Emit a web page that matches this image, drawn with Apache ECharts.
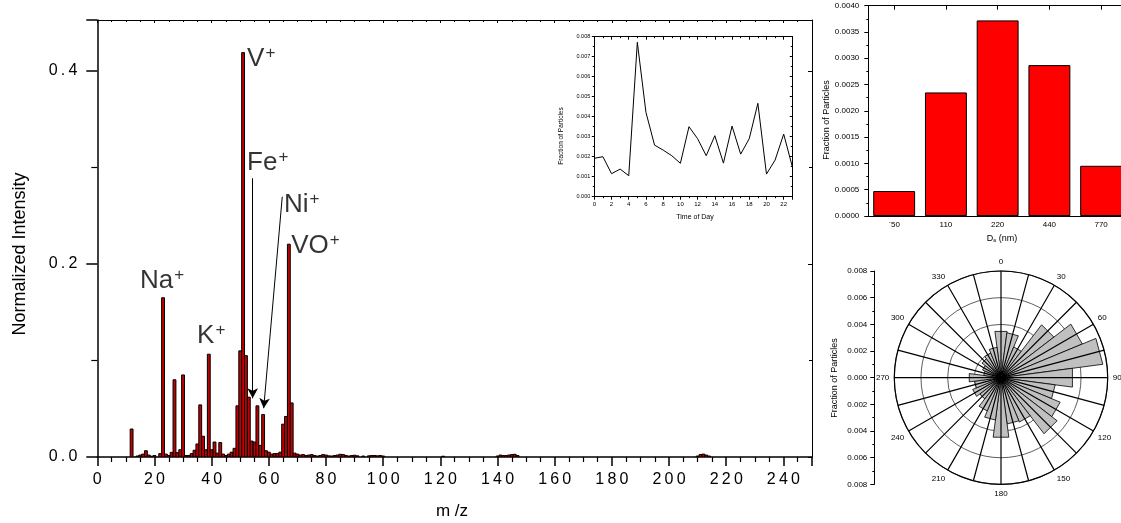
<!DOCTYPE html>
<html><head><meta charset="utf-8">
<script src="https://cdn.jsdelivr.net/npm/echarts@6/dist/echarts.min.js"></script>
<style>html,body{margin:0;padding:0;background:#fff}#c{width:1121px;height:523px}</style>
</head><body><div id="c"></div>
<script>
const FONT = 'Liberation Sans, Arial, Helvetica, sans-serif';

// ---------- main mass spectrum ----------
const mzValues = [12,14,15,16,17,18,19,20,22,23,24,25,26,27,28,29,30,31,32,33,34,35,36,37,38,39,40,41,42,43,44,45,46,47,48,49,50,51,52,53,54,55,56,57,58,59,60,61,62,63,64,65,66,67,68,69,70,71,72,73,74,75,76,77,78,79,80,81,82,83,84,85,86,87,88,89,90,91,93,95,96,97,98,99,100,121,140,141,142,143,144,145,146,147,210,211,212,213,214];
const intensities = [0.029,0.001,0.002,0.003,0.0065,0.002,0.0008,0.0015,0.0035,0.165,0.003,0.0015,0.0048,0.080,0.0045,0.0075,0.085,0.0015,0.0015,0.0035,0.007,0.0135,0.054,0.0215,0.0075,0.1065,0.0075,0.0155,0.004,0.015,0.003,0.0015,0.003,0.005,0.009,0.053,0.110,0.419,0.105,0.062,0.0165,0.0155,0.053,0.012,0.044,0.0065,0.005,0.003,0.0035,0.0035,0.005,0.034,0.042,0.2205,0.056,0.004,0.003,0.002,0.0025,0.0015,0.002,0.0025,0.0015,0.001,0.0015,0.0025,0.002,0.0012,0.001,0.0015,0.002,0.0028,0.0025,0.0015,0.001,0.0015,0.0018,0.0012,0.001,0.0012,0.0015,0.0015,0.0012,0.0015,0.001,0.0008,0.001,0.002,0.0015,0.0015,0.002,0.0025,0.0028,0.0015,0.001,0.0025,0.003,0.002,0.001];

// ion labels (anchor = left edge / vertical middle, data units)
const ionNames = ['Na','K','V','Fe','Ni','VO'];
const ionLabelX = [14.9, 34.9, 52.4, 52.4, 65.3, 67.8];
const ionLabelY = [0.1824, 0.1254, 0.4124, 0.3047, 0.2611, 0.2187];
// arrows (from -> to, data units)
const arrowFrom = [[54.35, 0.2888], [64.7, 0.2697]];
const arrowTo   = [[54.35, 0.0608], [58.2, 0.0505]];

// ---------- inset: diurnal ----------
const hours = [0,1,2,3,4,5,6,7,8,9,10,11,12,13,14,15,16,17,18,19,20,21,22,23];
const hourFractions = [0.00192,0.0020,0.00115,0.00138,0.00105,0.00772,0.00422,0.00258,0.00233,0.00205,0.00167,0.0035,0.0029,0.00205,0.00305,0.00168,0.00353,0.00213,0.0029,0.00467,0.00113,0.00183,0.00313,0.0015];

// ---------- size histogram ----------
const sizeCategories = ['`50','110','220','440','770'];
const sizeFractions = [0.000475,0.00235,0.00372,0.00287,0.000955];

// ---------- wind rose ----------
const windAngles = [0,15,30,45,60,75,90,105,120,135,150,165,180,195,210,225,240,255,270,285,300,315,330,345];
const windFractions = [0.0035,0.0034,0.0025,0.0050,0.0066,0.0077,0.0054,0.0041,0.0048,0.0053,0.0036,0.0035,0.0045,0.0032,0.0027,0.0020,0.0023,0.0020,0.0024,0.0013,0.0015,0.0018,0.0020,0.0023];

const spaced = s => String(s).split('').join('\u2009');
const blk = '#000';

const mainData = mzValues.map((m, i) => [m, intensities[i]]);
const ionData = ionNames.map((n, i) => ({name: n, value: [ionLabelX[i], ionLabelY[i]]}));

function frameAxis(extra) {
  return Object.assign({
    axisLine: {show: true, onZero: false, lineStyle: {color: blk, width: 1}},
    axisLabel: {show: false},
    splitLine: {show: false},
    axisTick: {show: true, inside: true, length: 3, lineStyle: {color: blk}},
  }, extra);
}

const option = {
  animation: false,
  backgroundColor: '#fff',
  textStyle: {fontFamily: FONT, color: blk},
  grid: [
    {left: 97.3, right: 309, top: 20, bottom: 66, outerBoundsMode: 'none', containLabel: false},
    {left: 594.3, right: 328.7, top: 36.7, bottom: 326.3, outerBoundsMode: 'none', containLabel: false},
    {left: 868.3, right: -6, top: 5.7, bottom: 307, outerBoundsMode: 'none', containLabel: false},
    {left: 874.3, right: 245.7, top: 271, bottom: 38.6, outerBoundsMode: 'none', containLabel: false}
  ],
  xAxis: [
    {gridIndex: 0, type: 'value', min: 0, max: 250, interval: 20, position: 'bottom',
      axisLine: {onZero: false, lineStyle: {color: blk, width: 1.5}},
      axisTick: {inside: false, length: 9, lineStyle: {color: blk, width: 1.5}},
      minorTick: {show: true, splitNumber: 4, length: 5, lineStyle: {color: blk, width: 1.2}},
      axisLabel: {color: blk, fontSize: 16, fontFamily: FONT, margin: 15, showMaxLabel: false, formatter: v => spaced(v)},
      splitLine: {show: false}},
    frameAxis({gridIndex: 0, type: 'value', min: 0, max: 250, interval: 20, position: 'top',
      minorTick: {show: true, splitNumber: 4, length: 2, lineStyle: {color: blk}}}),
    {gridIndex: 1, type: 'value', min: 0, max: 23, interval: 2, position: 'bottom',
      axisLine: {onZero: false, lineStyle: {color: blk, width: 1}},
      axisTick: {inside: false, length: 3, lineStyle: {color: blk}},
      minorTick: {show: true, splitNumber: 2, length: 1.5, lineStyle: {color: blk}},
      axisLabel: {color: blk, fontSize: 6, fontFamily: FONT, margin: 5, showMaxLabel: false},
      splitLine: {show: false}},
    frameAxis({gridIndex: 1, type: 'value', min: 0, max: 23, interval: 2, position: 'top',
      minorTick: {show: true, splitNumber: 2, length: 1.5, lineStyle: {color: blk}}}),
    {gridIndex: 2, type: 'category', data: sizeCategories, position: 'bottom',
      axisLine: {lineStyle: {color: blk, width: 1}},
      axisTick: {show: false},
      axisLabel: {color: blk, fontSize: 8, fontFamily: FONT, margin: 5}},
    frameAxis({gridIndex: 2, type: 'category', data: sizeCategories, position: 'top',
      axisTick: {show: true, inside: true, alignWithLabel: true, length: 4, lineStyle: {color: blk}}}),
    {gridIndex: 3, type: 'value', show: false, min: 0, max: 1}
  ],
  yAxis: [
    {gridIndex: 0, type: 'value', min: 0, max: 0.4528, interval: 0.2, position: 'left',
      axisLine: {show: true, onZero: false, lineStyle: {color: blk, width: 1.5}},
      axisTick: {show: true, inside: false, length: 11, lineStyle: {color: blk, width: 1.5}},
      minorTick: {show: true, splitNumber: 2, length: 6, lineStyle: {color: blk, width: 1.2}},
      axisLabel: {color: blk, fontSize: 16, fontFamily: FONT, margin: 20, showMaxLabel: false, formatter: v => spaced(v.toFixed(1))},
      splitLine: {show: false}},
    frameAxis({gridIndex: 0, type: 'value', min: 0, max: 0.4528, interval: 0.2, position: 'right',
      axisTick: {show: true, inside: true, length: 4, lineStyle: {color: blk}},
      minorTick: {show: true, splitNumber: 2, length: 3, lineStyle: {color: blk}}}),
    {gridIndex: 1, type: 'value', min: 0, max: 0.008, interval: 0.001, position: 'left',
      axisLine: {show: true, onZero: false, lineStyle: {color: blk, width: 1}},
      axisTick: {show: true, inside: false, length: 2.5, lineStyle: {color: blk}},
      minorTick: {show: true, splitNumber: 2, length: 1.5, lineStyle: {color: blk}},
      axisLabel: {color: blk, fontSize: 5.5, fontFamily: FONT, margin: 4, formatter: v => v.toFixed(3)},
      splitLine: {show: false}},
    frameAxis({gridIndex: 1, type: 'value', min: 0, max: 0.008, interval: 0.001, position: 'right',
      axisTick: {show: true, inside: true, length: 2.5, lineStyle: {color: blk}},
      minorTick: {show: true, splitNumber: 2, length: 1.5, lineStyle: {color: blk}}}),
    {gridIndex: 2, type: 'value', min: 0, max: 0.004, interval: 0.0005, position: 'left',
      axisLine: {show: true, onZero: false, lineStyle: {color: blk, width: 1}},
      axisTick: {show: true, inside: false, length: 4, lineStyle: {color: blk}},
      minorTick: {show: true, splitNumber: 2, length: 2, lineStyle: {color: blk}},
      axisLabel: {color: blk, fontSize: 8, fontFamily: FONT, margin: 9, formatter: v => v.toFixed(4)},
      splitLine: {show: false}},
    {gridIndex: 3, type: 'value', min: -0.008, max: 0.008, interval: 0.002, position: 'left',
      axisLine: {show: true, onZero: false, lineStyle: {color: blk, width: 1}},
      axisTick: {show: true, inside: false, length: 4, lineStyle: {color: blk}},
      minorTick: {show: true, splitNumber: 2, length: 2, lineStyle: {color: blk}},
      axisLabel: {color: blk, fontSize: 8, fontFamily: FONT, margin: 7, formatter: v => Math.abs(v).toFixed(3)},
      splitLine: {show: false}}
  ],
  polar: {center: [1001, 377.7], radius: 106.7},
  angleAxis: {type: 'value', min: 0, max: 360, interval: 15, startAngle: 90, clockwise: true, z: 5,
    axisLine: {show: true, lineStyle: {color: blk, width: 1.2}},
    axisTick: {show: false},
    splitLine: {show: true, lineStyle: {color: blk, width: 1.2}},
    axisLabel: {color: blk, fontSize: 8, fontFamily: FONT, margin: 5,
      formatter: v => (v % 30 === 0 && v !== 360) ? String(v) : ''}},
  radiusAxis: {type: 'value', min: 0, max: 0.008, interval: 0.002, z: 0,
    axisLine: {show: false}, axisTick: {show: false}, axisLabel: {show: false},
    splitLine: {show: true, lineStyle: {color: '#333', width: 0.8}}},
  graphic: [
    {type: 'text', x: 20, y: 254, rotation: Math.PI / 2, style: {text: 'Normalized Intensity', font: '18px ' + FONT, fill: blk, align: 'center', verticalAlign: 'middle'}},
    {type: 'text', x: 452, y: 511, style: {text: 'm /z', font: '17px ' + FONT, fill: blk, align: 'center', verticalAlign: 'middle'}},
    {type: 'text', x: 695, y: 216.7, style: {text: 'Time of Day', font: '7px ' + FONT, fill: blk, align: 'center', verticalAlign: 'middle'}},
    {type: 'text', x: 561, y: 136, rotation: Math.PI / 2, style: {text: 'Fraction of Particles', font: '6.5px ' + FONT, fill: blk, align: 'center', verticalAlign: 'middle'}},
    {type: 'text', x: 826.7, y: 120, rotation: Math.PI / 2, style: {text: 'Fraction of Particles', font: '9px ' + FONT, fill: blk, align: 'center', verticalAlign: 'middle'}},
    {type: 'text', x: 1002, y: 239, style: {text: '{a|D}{s|a}{a| (nm)}', align: 'center', verticalAlign: 'middle',
      rich: {a: {fontSize: 9, fontFamily: FONT, color: blk}, s: {fontSize: 5, fontFamily: FONT, color: blk, verticalAlign: 'bottom'}}}},
    {type: 'text', x: 835, y: 378, rotation: Math.PI / 2, style: {text: 'Fraction of Particles', font: '9px ' + FONT, fill: blk, align: 'center', verticalAlign: 'middle'}}
  ],
  series: [
    {type: 'custom', xAxisIndex: 0, yAxisIndex: 0, data: mainData, encode: {x: 0, y: 1}, clip: true,
      renderItem: (params, api) => {
        const x = api.value(0), v = api.value(1);
        const p0 = api.coord([x - 0.5, v]);
        const p1 = api.coord([x + 0.5, 0]);
        return {type: 'rect', shape: {x: p0[0], y: p0[1], width: p1[0] - p0[0], height: p1[1] - p0[1]},
          style: {fill: '#c00000', stroke: '#000', lineWidth: 1}};
      }},
    {type: 'scatter', xAxisIndex: 0, yAxisIndex: 0, data: ionData, symbolSize: 0, silent: true,
      label: {show: true, position: [0, 0], align: 'left', verticalAlign: 'middle',
        formatter: p => '{b|' + p.name + '}{s|+}',
        rich: {b: {fontSize: 26, fontFamily: FONT, color: blk, lineHeight: 28},
               s: {fontSize: 17, fontFamily: FONT, color: blk, verticalAlign: 'top', lineHeight: 17, padding: [0, 0, 0, 1]}}},
      markLine: {silent: true, symbol: ['none', 'arrow'], symbolSize: [8, 10],
        lineStyle: {color: blk, width: 1, type: 'solid'}, label: {show: false},
        data: arrowFrom.map((f, i) => [{coord: f}, {coord: arrowTo[i]}])}},
    {type: 'line', xAxisIndex: 2, yAxisIndex: 2, data: hours.map((h, i) => [h, hourFractions[i]]),
      showSymbol: false, lineStyle: {color: blk, width: 1}, itemStyle: {color: blk}},
    {type: 'bar', xAxisIndex: 4, yAxisIndex: 4, data: sizeFractions, barCategoryGap: '19%',
      itemStyle: {color: '#ff0000', borderColor: '#000', borderWidth: 1}},
    {type: 'custom', coordinateSystem: 'polar', data: windFractions.map((f, i) => [f, windAngles[i]]),
      encode: {radius: 0, angle: 1}, z: 2,
      renderItem: (params, api) => {
        const v = api.value(0), a = api.value(1);
        const c = api.coord([0, a]);
        const p1 = api.coord([v, a - 7.5]);
        const p2 = api.coord([v, a + 7.5]);
        return {type: 'polygon', shape: {points: [c, p1, p2]}, style: {fill: '#c0c0c0', stroke: '#000', lineWidth: 0.8}};
      }},
    {type: 'scatter', coordinateSystem: 'polar', data: [[0, 0]], symbolSize: 10, z: 10, silent: true,
      itemStyle: {color: blk}}
  ]
};
const chart = echarts.init(document.getElementById('c'), null, {renderer: 'canvas'});
chart.setOption(option);
</script></body></html>
